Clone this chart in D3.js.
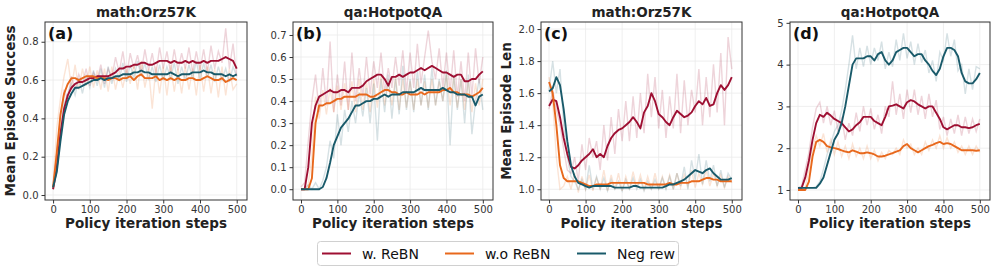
<!DOCTYPE html>
<html>
<head>
<meta charset="utf-8">
<script src="https://cdn.jsdelivr.net/npm/d3@7"></script>
<style>
  body { margin: 0; background: #fff; }
  text { font-family: "DejaVu Sans", sans-serif; }
</style>
</head>
<body>
<div id="viz-container" style="width:996px;height:272px;"></div>
<script>
// steps 0..500 every 10
const steps = d3.range(0, 501, 10);

const seriesNames = ["w. ReBN", "w.o ReBN", "Neg rew"];
const colors = ["#9e0f32", "#e8681c", "#195a6a"];

const titles = ["math:Orz57K", "qa:HotpotQA", "math:Orz57K", "qa:HotpotQA"];
const tags = ["(a)", "(b)", "(c)", "(d)"];
const yLabels = ["Mean Episode Success", "", "Mean Episode Len", ""];
const xTicks = [0, 100, 200, 300, 400, 500];
const yTicks = [
  [0.0, 0.2, 0.4, 0.6, 0.8],
  [0.0, 0.1, 0.2, 0.3, 0.4, 0.5, 0.6, 0.7],
  [1.0, 1.2, 1.4, 1.6, 1.8, 2.0],
  [1, 2, 3, 4, 5]
];
const yFormats = [".1f", ".1f", ".1f", "d"];

// (a) success, math
const aRed = [0.03,0.14,0.32,0.45,0.52,0.56,0.58,0.59,0.59,0.60,0.61,0.61,0.62,0.62,0.62,0.62,0.63,0.64,0.66,0.66,0.67,0.67,0.68,0.68,0.69,0.69,0.68,0.68,0.69,0.70,0.70,0.70,0.69,0.70,0.69,0.69,0.70,0.69,0.70,0.69,0.69,0.70,0.69,0.70,0.70,0.70,0.71,0.72,0.71,0.70,0.66];
const aOrange = [0.04,0.22,0.42,0.53,0.58,0.61,0.61,0.60,0.61,0.62,0.62,0.62,0.61,0.61,0.61,0.60,0.61,0.61,0.60,0.61,0.61,0.62,0.60,0.62,0.63,0.61,0.61,0.61,0.62,0.60,0.61,0.60,0.61,0.60,0.61,0.60,0.60,0.61,0.61,0.60,0.60,0.61,0.62,0.61,0.60,0.60,0.61,0.59,0.60,0.61,0.60];
const aTeal = [0.04,0.12,0.28,0.42,0.49,0.53,0.56,0.56,0.57,0.58,0.59,0.60,0.60,0.61,0.60,0.61,0.61,0.62,0.62,0.63,0.63,0.63,0.64,0.64,0.65,0.64,0.64,0.63,0.63,0.63,0.63,0.63,0.64,0.63,0.62,0.63,0.63,0.63,0.64,0.64,0.64,0.65,0.64,0.64,0.63,0.63,0.63,0.62,0.63,0.62,0.63];
const aRedRaw = [0.03,0.22,0.40,0.55,0.50,0.62,0.55,0.63,0.58,0.66,0.57,0.64,0.60,0.68,0.58,0.66,0.61,0.72,0.64,0.75,0.62,0.74,0.66,0.73,0.64,0.76,0.65,0.74,0.63,0.77,0.66,0.75,0.64,0.76,0.65,0.74,0.66,0.77,0.64,0.75,0.65,0.76,0.64,0.78,0.66,0.75,0.69,0.87,0.66,0.79,0.62];
const aOrangeRaw = [0.05,0.35,0.50,0.62,0.71,0.56,0.68,0.55,0.66,0.57,0.67,0.56,0.65,0.55,0.66,0.54,0.67,0.55,0.64,0.56,0.66,0.58,0.68,0.55,0.70,0.56,0.66,0.45,0.67,0.53,0.67,0.52,0.68,0.54,0.66,0.53,0.67,0.55,0.66,0.52,0.68,0.54,0.67,0.53,0.66,0.51,0.67,0.52,0.66,0.55,0.58];
const aTealRaw = [0.05,0.18,0.33,0.48,0.53,0.58,0.52,0.61,0.53,0.62,0.56,0.65,0.57,0.66,0.56,0.67,0.58,0.66,0.60,0.69,0.59,0.68,0.61,0.70,0.62,0.69,0.60,0.67,0.59,0.68,0.60,0.67,0.61,0.69,0.58,0.67,0.60,0.68,0.61,0.70,0.60,0.69,0.61,0.68,0.59,0.67,0.60,0.66,0.59,0.67,0.62];

// (b) success, qa
const bRed = [0.00,0.00,0.10,0.30,0.38,0.42,0.43,0.44,0.45,0.44,0.44,0.45,0.45,0.44,0.46,0.46,0.46,0.47,0.49,0.50,0.51,0.52,0.52,0.50,0.47,0.51,0.51,0.52,0.51,0.52,0.53,0.53,0.54,0.55,0.54,0.55,0.56,0.55,0.54,0.53,0.53,0.52,0.51,0.52,0.52,0.49,0.49,0.50,0.50,0.52,0.535];
const bOrange = [0.00,0.00,0.00,0.05,0.30,0.38,0.38,0.39,0.39,0.40,0.41,0.41,0.42,0.42,0.42,0.42,0.43,0.43,0.43,0.42,0.42,0.43,0.44,0.45,0.45,0.44,0.44,0.43,0.43,0.44,0.43,0.43,0.43,0.44,0.43,0.44,0.44,0.44,0.44,0.45,0.45,0.46,0.44,0.44,0.43,0.43,0.43,0.42,0.43,0.44,0.46];
const bTeal = [0.00,0.00,0.00,0.00,0.00,0.00,0.01,0.05,0.12,0.20,0.24,0.28,0.30,0.32,0.35,0.38,0.38,0.39,0.40,0.40,0.41,0.41,0.42,0.43,0.42,0.43,0.43,0.43,0.44,0.44,0.44,0.44,0.45,0.46,0.45,0.45,0.45,0.45,0.45,0.46,0.45,0.44,0.44,0.43,0.43,0.43,0.42,0.42,0.38,0.42,0.43];
const bRedRaw = [0.01,0.03,0.22,0.40,0.52,0.35,0.55,0.38,0.67,0.35,0.52,0.38,0.58,0.36,0.62,0.40,0.55,0.42,0.60,0.43,0.58,0.46,0.62,0.44,0.55,0.46,0.60,0.47,0.63,0.44,0.62,0.46,0.66,0.48,0.60,0.72,0.58,0.50,0.64,0.46,0.62,0.44,0.63,0.42,0.58,0.40,0.62,0.42,0.64,0.48,0.60];
const bOrangeRaw = [0.00,0.00,0.02,0.15,0.42,0.32,0.45,0.34,0.46,0.35,0.47,0.36,0.48,0.36,0.49,0.35,0.50,0.36,0.49,0.35,0.50,0.37,0.52,0.38,0.50,0.38,0.51,0.36,0.50,0.37,0.49,0.36,0.50,0.38,0.49,0.37,0.50,0.38,0.49,0.40,0.52,0.38,0.51,0.37,0.50,0.36,0.49,0.35,0.48,0.38,0.50];
const bTealRaw = [0.00,0.00,0.02,0.00,0.03,0.00,0.04,0.10,0.22,0.14,0.34,0.20,0.36,0.26,0.40,0.30,0.44,0.33,0.46,0.30,0.48,0.22,0.50,0.35,0.52,0.32,0.50,0.34,0.56,0.36,0.50,0.35,0.54,0.38,0.52,0.36,0.55,0.38,0.50,0.40,0.54,0.20,0.52,0.36,0.50,0.30,0.52,0.25,0.40,0.50,0.36];

// (c) length, math
const cRed = [1.52,1.56,1.55,1.45,1.32,1.22,1.14,1.13,1.15,1.18,1.20,1.22,1.25,1.20,1.22,1.20,1.27,1.32,1.35,1.37,1.38,1.40,1.42,1.45,1.42,1.38,1.48,1.52,1.60,1.55,1.47,1.45,1.42,1.40,1.45,1.49,1.47,1.45,1.46,1.48,1.52,1.55,1.53,1.57,1.52,1.53,1.60,1.65,1.62,1.65,1.70];
const cOrange = [1.67,1.60,1.40,1.15,1.07,1.05,1.05,1.05,1.05,1.04,1.03,1.02,1.02,1.03,1.03,1.03,1.03,1.04,1.04,1.04,1.04,1.04,1.04,1.04,1.04,1.04,1.04,1.03,1.03,1.03,1.03,1.03,1.03,1.04,1.03,1.03,1.04,1.04,1.04,1.05,1.05,1.05,1.06,1.07,1.07,1.06,1.06,1.05,1.05,1.05,1.05];
const cTeal = [1.61,1.63,1.70,1.65,1.50,1.30,1.15,1.08,1.04,1.03,1.02,1.01,1.02,1.02,1.02,1.02,1.02,1.02,1.01,1.01,1.01,1.01,1.01,1.02,1.02,1.01,1.01,1.01,1.01,1.01,1.01,1.01,1.02,1.03,1.03,1.04,1.05,1.06,1.08,1.10,1.12,1.11,1.10,1.12,1.13,1.10,1.08,1.06,1.06,1.06,1.07];
const cRedRaw = [1.50,1.62,1.50,1.40,1.25,1.12,1.10,1.20,1.05,1.28,1.12,1.32,1.20,1.30,1.12,1.40,1.18,1.45,1.22,1.50,1.30,1.55,1.30,1.58,1.32,1.60,1.35,1.72,1.45,1.70,1.38,1.62,1.32,1.58,1.38,1.72,1.35,1.68,1.40,1.62,1.48,1.75,1.40,1.70,1.45,1.78,1.48,1.85,1.40,1.95,1.75];
const cOrangeRaw = [1.70,1.55,1.20,1.00,1.02,1.08,1.00,1.10,0.98,1.08,1.00,1.09,0.99,1.07,1.00,1.12,0.99,1.09,1.00,1.10,0.99,1.08,1.00,1.11,1.01,1.09,1.00,1.08,1.00,1.10,1.00,1.08,1.01,1.09,1.00,1.10,1.01,1.09,1.02,1.12,1.01,1.10,1.03,1.12,1.02,1.10,1.02,1.09,1.01,1.08,1.04];
const cTealRaw = [1.62,1.80,1.60,1.75,1.40,1.20,1.08,1.05,1.00,1.06,1.00,1.15,1.00,1.08,1.00,1.07,0.99,1.06,1.00,1.05,0.99,1.06,1.00,1.07,1.00,1.06,0.99,1.05,1.00,1.06,1.00,1.07,1.00,1.08,1.00,1.10,1.02,1.14,1.00,1.18,1.06,1.22,1.03,1.18,1.05,1.15,1.02,1.12,1.01,1.10,1.06];

// (d) length, qa
const dRed = [1.05,1.05,1.30,1.70,2.20,2.60,2.80,2.75,2.85,2.78,2.70,2.65,2.60,2.50,2.40,2.45,2.55,2.62,2.75,2.75,2.75,2.65,2.60,2.55,2.75,3.00,3.02,3.05,3.00,2.95,3.10,3.15,3.12,3.05,3.00,2.95,3.00,3.00,2.85,2.70,2.50,2.45,2.50,2.55,2.55,2.50,2.50,2.48,2.50,2.55,2.58];
const dOrange = [1.00,1.00,1.00,1.20,1.80,2.15,2.20,2.15,2.05,2.02,2.00,1.98,1.95,1.92,1.90,1.95,1.92,1.88,1.88,1.90,1.88,1.85,1.80,1.80,1.82,1.85,1.88,1.92,1.95,2.05,2.10,2.00,1.95,1.90,1.95,2.00,2.05,2.08,2.12,2.15,2.10,2.12,2.10,2.05,2.00,1.95,1.95,1.95,1.95,1.94,1.95];
const dTeal = [1.05,1.05,1.05,1.05,1.05,1.05,1.15,1.30,1.60,1.90,2.20,2.35,2.60,3.00,3.50,4.00,4.15,4.15,4.15,4.20,4.20,4.10,4.25,4.30,4.10,4.00,4.10,4.30,4.35,4.40,4.40,4.30,4.20,4.25,4.25,4.10,4.00,3.85,3.75,3.90,4.20,4.40,4.40,4.35,4.20,3.80,3.60,3.55,3.55,3.65,3.80];
const dRedRaw = [1.05,1.10,1.50,1.90,2.50,2.95,3.10,2.60,3.00,2.55,2.90,2.40,2.75,2.20,2.60,2.30,2.85,2.40,3.00,2.55,2.95,2.45,2.80,2.35,3.00,2.75,3.60,2.80,3.30,2.70,3.40,2.85,3.40,2.80,3.25,2.70,3.30,2.75,3.15,2.45,2.75,2.30,2.70,2.35,2.80,2.30,2.75,2.35,2.70,2.40,2.70];
const dOrangeRaw = [1.00,1.00,1.05,1.50,2.00,2.30,2.05,2.35,1.90,2.20,1.85,2.15,1.80,2.05,1.75,2.10,1.80,2.00,1.75,2.05,1.75,1.95,1.70,1.90,1.75,1.95,1.85,2.00,1.85,2.20,2.00,2.10,1.85,2.00,1.85,2.15,1.95,2.20,2.00,2.30,2.00,2.25,2.00,2.15,1.90,2.05,1.85,2.05,1.85,2.05,1.90];
const dTealRaw = [1.05,1.05,1.05,1.05,1.05,1.08,1.20,1.50,1.85,2.10,2.40,2.55,2.90,3.40,4.00,4.70,3.90,4.40,3.95,4.45,4.00,4.40,4.10,4.55,3.90,4.30,3.95,4.60,4.10,4.75,4.15,4.55,4.00,4.50,4.05,4.35,3.80,4.10,3.60,4.30,4.10,4.75,4.20,4.60,3.85,4.00,3.30,3.90,3.40,3.95,3.90];

const smooth = [[aRed, aOrange, aTeal], [bRed, bOrange, bTeal], [cRed, cOrange, cTeal], [dRed, dOrange, dTeal]];
const raw = [[aRedRaw, aOrangeRaw, aTealRaw], [bRedRaw, bOrangeRaw, bTealRaw], [cRedRaw, cOrangeRaw, cTealRaw], [dRedRaw, dOrangeRaw, dTealRaw]];
const yDomains = [[-0.026, 0.903], [-0.049, 0.759], [0.933, 2.044], [0.76, 5.02]];

// layout
const W = 996, H = 272;
const panelX = [[45, 247], [293, 493], [541, 742], [790, 990]];
const plotTop = 22, plotBottom = 200;

const svg = d3.select("#viz-container").append("svg")
    .attr("width", W).attr("height", H).attr("viewBox", [0, 0, W, H]);

panelX.forEach(([l, r], p) => {
    const x = d3.scaleLinear().domain([-22, 528]).range([l, r]);
    const y = d3.scaleLinear().domain(yDomains[p]).range([plotBottom, plotTop]);
    const g = svg.append("g");

    // grid
    g.append("g").selectAll("line").data(xTicks).join("line")
        .attr("x1", d => x(d)).attr("x2", d => x(d)).attr("y1", plotTop).attr("y2", plotBottom)
        .attr("stroke", "#ebebeb").attr("stroke-width", 0.8);
    g.append("g").selectAll("line").data(yTicks[p]).join("line")
        .attr("x1", l).attr("x2", r).attr("y1", d => y(d)).attr("y2", d => y(d))
        .attr("stroke", "#ebebeb").attr("stroke-width", 0.8);

    const clipId = "clip" + p;
    g.append("clipPath").attr("id", clipId).append("rect")
        .attr("x", l).attr("y", plotTop).attr("width", r - l).attr("height", plotBottom - plotTop);
    const plot = g.append("g").attr("clip-path", `url(#${clipId})`);

    const line = d3.line().x((d, i) => x(steps[i])).y(d => y(d));

    seriesNames.forEach((name, s) => {
        plot.append("path").datum(raw[p][s])
            .attr("fill", "none").attr("stroke", colors[s]).attr("stroke-opacity", 0.18)
            .attr("stroke-width", 1.4).attr("d", line);
    });
    seriesNames.forEach((name, s) => {
        plot.append("path").datum(smooth[p][s])
            .attr("fill", "none").attr("stroke", colors[s])
            .attr("stroke-width", 1.9).attr("stroke-linejoin", "round").attr("d", line);
    });

    // axes
    const xAxis = g.append("g").attr("transform", `translate(0,${plotBottom})`)
        .call(d3.axisBottom(x).tickValues(xTicks).tickSize(3.5).tickPadding(2.5).tickSizeOuter(0));
    const yAxis = g.append("g").attr("transform", `translate(${l},0)`)
        .call(d3.axisLeft(y).tickValues(yTicks[p]).tickFormat(d3.format(yFormats[p])).tickSize(3.5).tickPadding(3).tickSizeOuter(0));
    [xAxis, yAxis].forEach(a => {
        a.select(".domain").remove();
        a.selectAll("line").attr("stroke", "#333");
        a.selectAll("text").attr("fill", "#333").style("font-size", "10px")
            .style("font-family", "DejaVu Sans, sans-serif");
    });

    // frame
    g.append("rect").attr("x", l).attr("y", plotTop).attr("width", r - l).attr("height", plotBottom - plotTop)
        .attr("fill", "none").attr("stroke", "#333").attr("stroke-width", 1);

    g.append("text").attr("x", (l + r) / 2).attr("y", 17).attr("text-anchor", "middle")
        .style("font-size", "13.5px").style("font-weight", "bold").attr("fill", "#222")
        .text(titles[p]);
    g.append("text").attr("x", l + 3).attr("y", 39)
        .style("font-size", "16px").style("font-weight", "bold").attr("fill", "#111")
        .text(tags[p]);
    g.append("text").attr("x", (l + r) / 2).attr("y", 227.5).attr("text-anchor", "middle")
        .style("font-size", "13.5px").style("font-weight", "bold").attr("fill", "#222")
        .text("Policy iteration steps");
    if (yLabels[p]) {
        g.append("text").attr("transform", `translate(${l - 30},${(plotTop + plotBottom) / 2}) rotate(-90)`)
            .attr("text-anchor", "middle")
            .style("font-size", "13.5px").style("font-weight", "bold").attr("fill", "#222")
            .text(yLabels[p]);
    }
});

// legend
const lg = svg.append("g");
lg.append("rect").attr("x", 317.5).attr("y", 241.5).attr("width", 361).attr("height", 24).attr("rx", 3)
    .attr("fill", "#fff").attr("stroke", "#d0d0d0");
const legX = [322, 445, 577];
seriesNames.forEach((name, s) => {
    lg.append("line").attr("x1", legX[s]).attr("x2", legX[s] + 29).attr("y1", 253.5).attr("y2", 253.5)
        .attr("stroke", colors[s]).attr("stroke-width", 2);
    lg.append("text").attr("x", legX[s] + 40).attr("y", 258.5)
        .style("font-size", "14px").attr("fill", "#111").text(name);
});
</script>
</body>
</html>
